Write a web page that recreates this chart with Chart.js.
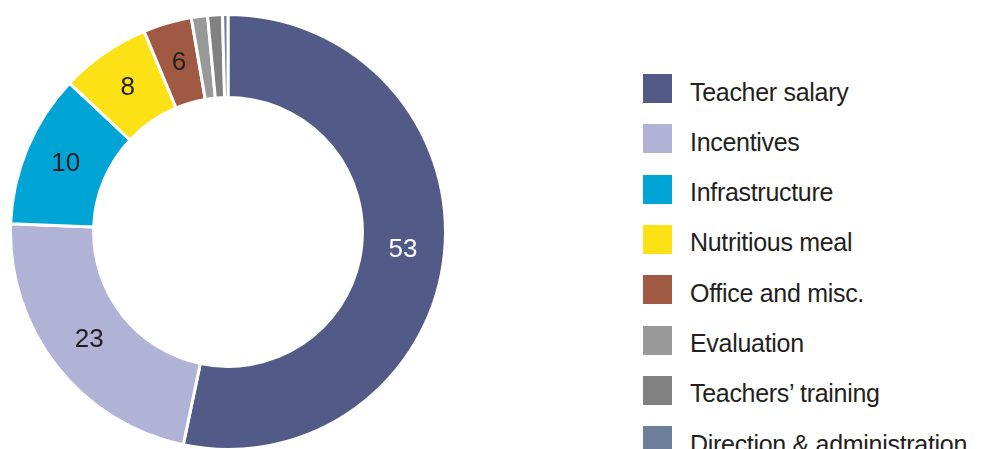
<!DOCTYPE html>
<html>
<head>
<meta charset="utf-8">
<script src="https://cdn.jsdelivr.net/npm/chart.js@4"></script>
<style>
  html, body { margin: 0; padding: 0; background: #ffffff; overflow: hidden; width: 987px; height: 449px; }
  #wrap { position: absolute; left: 9px; top: 13px; width: 438px; height: 438px; }
  #legend { position: absolute; left: 0; top: 0; }
  .row { position: absolute; left: 643px; height: 29px; white-space: nowrap; }
  .box { position: absolute; left: 0; top: 0; width: 29px; height: 29px; }
  .txt { position: absolute; left: 47px; top: 3.5px; line-height: 29px; font-family: "Liberation Sans", Arial, sans-serif; font-size: 25px; letter-spacing: -0.3px; color: #231f20; }
</style>
</head>
<body>
<div id="wrap"><canvas id="c"></canvas></div>
<div id="legend"></div>
<script>
// ---- data ----
const categories = ["Teacher salary", "Incentives", "Infrastructure", "Nutritious meal", "Office and misc.", "Evaluation", "Teachers\u2019 training", "Direction & administration"];
const sliceValues = [53.3, 22.3, 11.4, 6.7, 3.6, 1.2, 1.1, 0.4];
const printedLabels = ["53", "23", "10", "8", "6", "", "", ""];
const colors = ["#525a87", "#b0b3d5", "#00a5d5", "#fbe116", "#a05a44", "#999999", "#818181", "#6e8099"];
const labelColors = ["#ffffff", "#231f20", "#231f20", "#231f20", "#231f20", "#231f20", "#231f20", "#231f20"];

// ---- legend (HTML) ----
const legend = document.getElementById('legend');
categories.forEach((name, i) => {
  const row = document.createElement('div');
  row.className = 'row';
  row.style.top = (74 + i * 50.3) + 'px';
  const box = document.createElement('span');
  box.className = 'box';
  box.style.background = colors[i];
  const txt = document.createElement('span');
  txt.className = 'txt';
  txt.textContent = name;
  row.appendChild(box);
  row.appendChild(txt);
  legend.appendChild(row);
});

// ---- value labels plugin ----
const valueLabels = {
  id: 'valueLabels',
  afterDatasetsDraw(chart) {
    const ctx = chart.ctx;
    const meta = chart.getDatasetMeta(0);
    ctx.save();
    ctx.font = '26px "Liberation Sans", Arial, sans-serif';
    ctx.textAlign = 'center';
    ctx.textBaseline = 'middle';
    meta.data.forEach((arc, i) => {
      const t = printedLabels[i];
      if (!t) return;
      const p = arc.tooltipPosition();
      ctx.fillStyle = labelColors[i];
      ctx.fillText(t, p.x, p.y);
    });
    ctx.restore();
  }
};

new Chart(document.getElementById('c'), {
  type: 'doughnut',
  data: {
    labels: categories,
    datasets: [{
      data: sliceValues,
      backgroundColor: colors,
      borderColor: '#ffffff',
      borderWidth: 3
    }]
  },
  options: {
    responsive: true,
    maintainAspectRatio: false,
    animation: false,
    events: [],
    cutout: '61.8%',
    rotation: 0,
    layout: { padding: 0 },
    plugins: {
      legend: { display: false },
      tooltip: { enabled: false }
    }
  },
  plugins: [valueLabels]
});
</script>
</body>
</html>
